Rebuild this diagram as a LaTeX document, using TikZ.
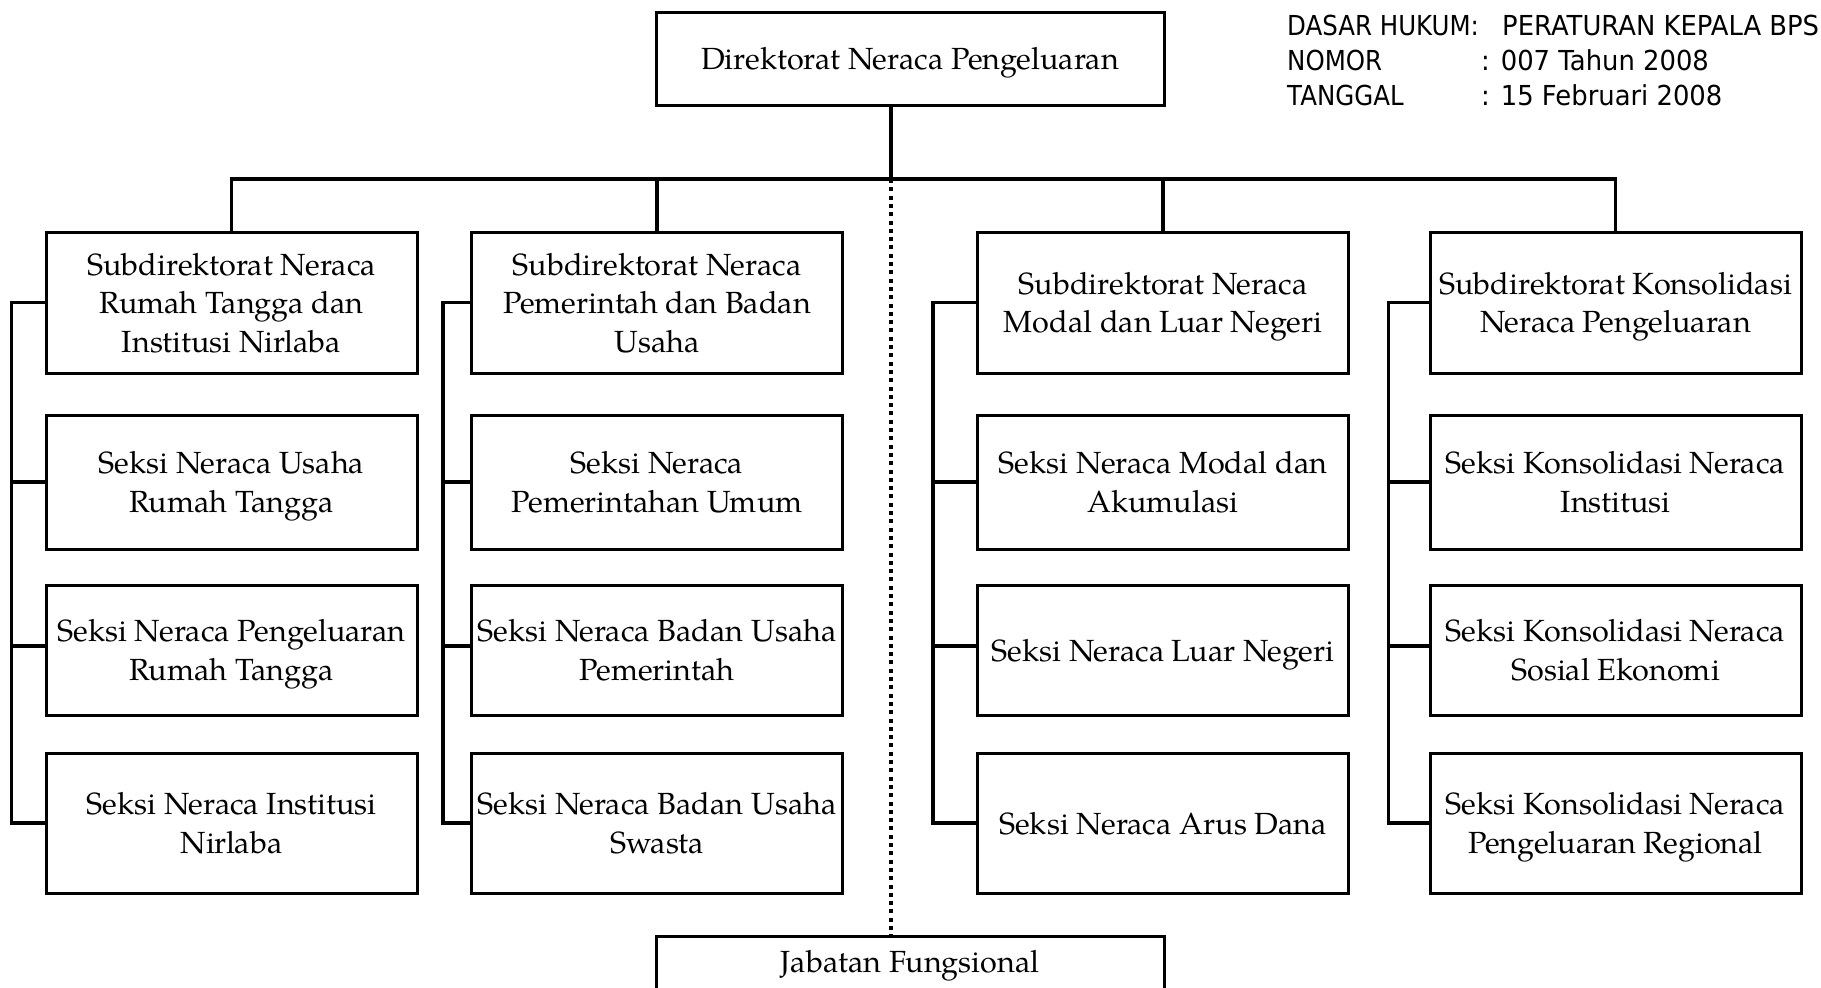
\documentclass[tikz,border=0pt]{standalone}
\usepackage{fontspec}
\setmainfont{texgyrepagella-regular.otf}
\newfontfamily\hdr[FakeStretch=0.89]{DejaVu Sans}
\newfontfamily\hdrw[FakeStretch=0.94]{DejaVu Sans}
\begin{document}
\begin{tikzpicture}[x=1pt,y=-1pt,
  box/.style={draw, line width=3pt, minimum width=371pt, inner sep=0pt, align=center,
              text depth=0pt, font=\fontsize{30.6}{38.5}\selectfont},
  conn/.style={line width=3.5pt},
  dots/.style={line width=3.5pt, dash pattern=on 4pt off 4.3pt},
  hdrtext/.style={inner sep=0pt, anchor=base west, font=\hdr\fontsize{27.5}{32}\selectfont},
  hdrwide/.style={hdrtext, font=\hdrw\fontsize{27.5}{32}\selectfont}]
\useasboundingbox (0,0) rectangle (1821,988);
\clip (0,0) rectangle (1821,988);

% top
\node[box, minimum width=508pt, minimum height=93pt] (top) at (910,58.5) {Direktorat Neraca Pengeluaran};

% header text
\node[hdrtext] (h1) at (1287,35) {DASAR HUKUM:};
\node[hdrwide] (h1b) at (1502,35) {PERATURAN KEPALA BPS};
\node[hdrtext] (h2) at (1287,70) {NOMOR};
\node[hdrwide] (h2b) at (1481,70) {: 007 Tahun 2008};
\node[hdrtext] (h3) at (1287,105) {TANGGAL};
\node[hdrwide] (h3b) at (1481,105) {: 15 Februari 2008};

% column 1
\node[box, minimum height=141pt] (c1r1) at (231.5,302.5) {Subdirektorat Neraca\\Rumah Tangga dan\\Institusi Nirlaba};
\node[box, minimum height=134pt] (c1r2) at (231.5,482) {Seksi Neraca Usaha\\Rumah Tangga};
\node[box, minimum height=130pt] (c1r3) at (231.5,650) {Seksi Neraca Pengeluaran\\Rumah Tangga};
\node[box, minimum height=140pt] (c1r4) at (231.5,823) {Seksi Neraca Institusi\\Nirlaba};
% column 2
\node[box, minimum height=141pt] (c2r1) at (657,302.5) {Subdirektorat Neraca\\Pemerintah dan Badan\\Usaha};
\node[box, minimum height=134pt] (c2r2) at (657,482) {Seksi Neraca\\Pemerintahan Umum};
\node[box, minimum height=130pt] (c2r3) at (657,650) {Seksi Neraca Badan Usaha\\Pemerintah};
\node[box, minimum height=140pt] (c2r4) at (657,823) {Seksi Neraca Badan Usaha\\Swasta};
% column 3
\node[box, minimum height=141pt] (c3r1) at (1163,302.5) {Subdirektorat Neraca\\Modal dan Luar Negeri};
\node[box, minimum height=134pt] (c3r2) at (1163,482) {Seksi Neraca Modal dan\\Akumulasi};
\node[box, minimum height=130pt] (c3r3) at (1163,650) {Seksi Neraca Luar Negeri};
\node[box, minimum height=140pt] (c3r4) at (1163,823) {Seksi Neraca Arus Dana};
% column 4
\node[box, minimum height=141pt] (c4r1) at (1615.5,302.5) {Subdirektorat Konsolidasi\\Neraca Pengeluaran};
\node[box, minimum height=134pt] (c4r2) at (1615.5,482) {Seksi Konsolidasi Neraca\\Institusi};
\node[box, minimum height=130pt] (c4r3) at (1615.5,650) {Seksi Konsolidasi Neraca\\Sosial Ekonomi};
\node[box, minimum height=140pt] (c4r4) at (1615.5,823) {Seksi Konsolidasi Neraca\\Pengeluaran Regional};

% bottom
\node[box, minimum width=508pt, minimum height=100pt, anchor=north] (jab) at (910,935) {};
\node[inner sep=0pt, text depth=0pt, font=\fontsize{30.6}{38.5}\selectfont] (jabt) at (910,961) {Jabatan Fungsional};

% connectors
\coordinate (vx) at (891,179);
\draw[conn] (top.south -| vx) -- (vx);
\draw[conn] (c1r1.north) -- (c1r1.north |- vx) -- (c4r1.north |- vx) -- (c4r1.north);
\draw[conn] (c2r1.north) -- (c2r1.north |- vx);
\draw[conn] (c3r1.north) -- (c3r1.north |- vx);
\draw[dots] (vx) -- (vx |- jab.north);

% brackets
\draw[conn] (c1r1.west) -- ++(-33,0) |- (c1r4.west);
\draw[conn] (c1r2.west) -- ++(-33,0);
\draw[conn] ([yshift=4pt]c1r3.west) -- ++(-33,0);
\draw[conn] (c2r1.west) -- ++(-27,0) |- (c2r4.west);
\draw[conn] (c2r2.west) -- ++(-27,0);
\draw[conn] ([yshift=4pt]c2r3.west) -- ++(-27,0);
\draw[conn] (c3r1.west) -- ++(-43,0) |- (c3r4.west);
\draw[conn] (c3r2.west) -- ++(-43,0);
\draw[conn] ([yshift=4pt]c3r3.west) -- ++(-43,0);
\draw[conn] (c4r1.west) -- ++(-40,0) |- (c4r4.west);
\draw[conn] (c4r2.west) -- ++(-40,0);
\draw[conn] ([yshift=4pt]c4r3.west) -- ++(-40,0);
\end{tikzpicture}
\end{document}
